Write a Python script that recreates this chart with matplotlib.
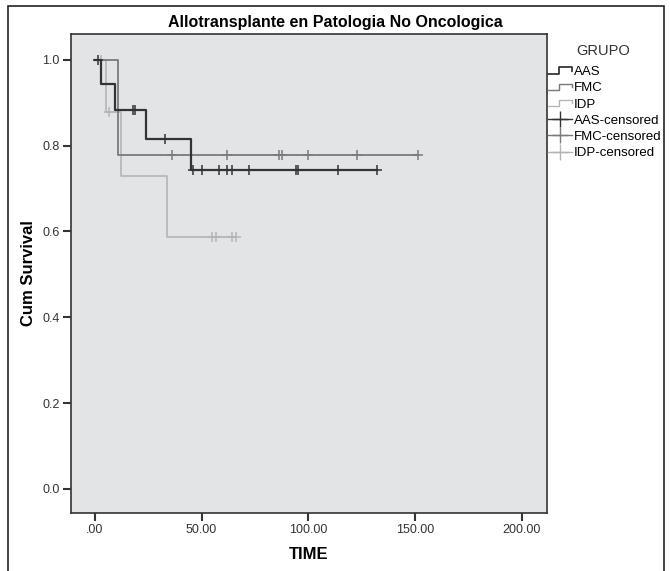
import numpy as np
import matplotlib
matplotlib.use("Agg")
import matplotlib.pyplot as plt
from matplotlib.lines import Line2D
from matplotlib.legend_handler import HandlerBase
from matplotlib.patches import Rectangle

plt.rcParams['font.family'] = ['Liberation Sans', 'DejaVu Sans']

# ---- data ----
groups = ["AAS", "FMC", "IDP"]
aas_step_t = [0, 2.7, 9.4, 24, 45]
aas_step_s = [1.0, 0.944, 0.883, 0.816, 0.742]
aas_end = 132.3
aas_cens = [1.6, 18, 19, 33, 46, 50, 58, 62, 64, 72, 94, 95, 114, 132.3]

fmc_step_t = [0, 11]
fmc_step_s = [1.0, 0.778]
fmc_end = 151.2
fmc_cens = [36, 62, 86.3, 87.8, 100, 123, 151.2]

idp_step_t = [0, 5.2, 12.2, 34]
idp_step_s = [1.0, 0.879, 0.730, 0.586]
idp_end = 66
idp_cens = [3, 6.6, 55, 56.7, 64, 66]

colors = ["#333333", "#7a7a7a", "#b4b4b4"]
widths = [1.6, 1.3, 1.2]

xticks = [0, 50, 100, 150, 200]
xticklabels = [".00", "50.00", "100.00", "150.00", "200.00"]
yticks = [0.0, 0.2, 0.4, 0.6, 0.8, 1.0]
yticklabels = ["0.0", "0.2", "0.4", "0.6", "0.8", "1.0"]

series = [
    (aas_step_t, aas_step_s, aas_end, aas_cens),
    (fmc_step_t, fmc_step_s, fmc_end, fmc_cens),
    (idp_step_t, idp_step_s, idp_end, idp_cens),
]

fig = plt.figure(figsize=(6.70, 5.71), dpi=100)
fig.patch.set_facecolor("white")
ax = fig.add_axes([71/670, 1-513/571, (547-71)/670, (513-34)/571])
ax.set_facecolor("#e3e4e6")

# draw in reverse so dark is on top
for i in [2, 1, 0]:
    st, ss, end, cens = series[i]
    t = list(st) + [end]
    s = list(ss) + [ss[-1]]
    ax.step(t, s, where="post", color=colors[i], lw=widths[i], zorder=3+(2-i))
    idx = np.searchsorted(np.array(st), np.array(cens), side="right") - 1
    cs = np.array(ss)[idx]
    ax.plot(cens, cs, linestyle="none", marker="+", ms=7.5, mew=1.1,
            color=colors[i], zorder=4+(2-i))

ax.set_xlim(-11.2, 211.8)
ax.set_ylim(-0.056, 1.06)
ax.set_xticks(xticks)
ax.set_xticklabels(xticklabels, fontsize=9, color="#333333")
ax.set_yticks(yticks)
ax.set_yticklabels(yticklabels, fontsize=9, color="#333333")
ax.tick_params(direction="out", length=6, width=1.5, color="#333333", pad=2)
for sp in ax.spines.values():
    sp.set_color("#333333")
    sp.set_linewidth(1.2)

ax.set_xlabel("TIME", fontsize=12, fontweight="bold", labelpad=8)
ax.set_ylabel("Cum Survival", fontsize=12, fontweight="bold", labelpad=5)
fig.text(0.5, 1-23/571, "Allotransplante en Patologia No Oncologica",
         ha="center", va="center", fontsize=11.5, fontweight="bold")

# outer border
fig.patches.append(Rectangle((8/670, -0.02), (664-8)/670, 1-6/571+0.02,
                             transform=fig.transFigure, fill=False,
                             edgecolor="#222222", lw=1.2))


class StepHandle:
    def __init__(self, color, lw):
        self.color = color
        self.lw = lw


class HandlerStep(HandlerBase):
    def create_artists(self, legend, orig, xdescent, ydescent, width, height,
                       fontsize, trans):
        w, h = width, height
        x = np.array([0, 0.45*w, 0.45*w, w, w]) - xdescent
        y = np.array([0.15*h, 0.15*h, 0.85*h, 0.85*h, 0.45*h]) - ydescent
        ln = Line2D(x, y, color=orig.color, lw=orig.lw * 0.8, transform=trans)
        return [ln]


handles = [StepHandle(colors[i], widths[i]) for i in range(3)]
handles += [Line2D([], [], color=colors[i], lw=1.0, marker="+", ms=12, mew=1.0)
            for i in range(3)]
labels = groups + [g + "-censored" for g in groups]

fig.text(603/670, 1-51/571, "GRUPO", ha="center", va="center", fontsize=10.5,
         color="#333333")
leg = fig.legend(handles, labels, loc="upper left",
                 bbox_to_anchor=(548/670, 1-66/571),
                 handler_map={StepHandle: HandlerStep()},
                 frameon=False, fontsize=9.5,
                 handlelength=1.8, handletextpad=0.15,
                 labelspacing=0.3, borderpad=0.0, borderaxespad=0.0)

fig.savefig("out.png", dpi=100, facecolor="white")
